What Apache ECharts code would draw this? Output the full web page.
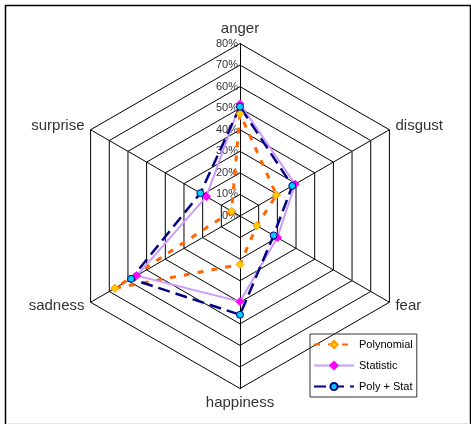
<!DOCTYPE html>
<html><head><meta charset="utf-8">
<script src="https://cdn.jsdelivr.net/npm/echarts@6/dist/echarts.min.js"></script>
<style>html,body{margin:0;padding:0;background:#fff}#c{width:471px;height:425px}</style>
</head><body><div id="c"></div>
<script>
// Categories in clockwise visual order starting at top
const categories = ['anger', 'disgust', 'fear', 'happiness', 'sadness', 'surprise'];
const polynomial = [47.5, 19.5, 9, 22.5, 67, 4.5];
const statistic  = [52, 29.5, 20, 39.7, 55.3, 18];
const polyStat   = [50.7, 28, 18, 45.8, 58.3, 21.2];
const tickLabels = ['0%', '10%', '20%', '30%', '40%', '50%', '60%', '70%', '80%'];
const seriesNames = ['Polynomial', 'Statistic', 'Poly + Stat'];

// ECharts radar places indicators counter-clockwise; reorder so they appear clockwise
const order = [0, 5, 4, 3, 2, 1];
const reorder = arr => order.map(i => arr[i]);

const indicator = order.map((i, k) => {
  const o = { name: categories[i], min: 0, max: 80 };
  if (k === 0) o.axisLabel = {
    show: true, color: '#333', fontSize: 11, fontFamily: 'Liberation Sans, Arial',
    formatter: v => tickLabels[Math.round(v / 10)], margin: 2
  };
  return o;
});

const styles = [
  { symbol: 'diamond', symbolSize: 8,
    lineStyle: { color: '#FF6600', width: 3, type: [6, 8] },
    itemStyle: { color: '#FFCC00', borderColor: '#FF9900', borderWidth: 1 } },
  { symbol: 'diamond', symbolSize: 8,
    lineStyle: { color: '#CC99FF', width: 2, type: 'solid' },
    itemStyle: { color: '#FF00FF', borderColor: '#FF00FF', borderWidth: 1 } },
  { symbol: 'circle', symbolSize: 7,
    lineStyle: { color: '#000080', width: 2.5, type: [12, 6] },
    itemStyle: { color: '#00CCFF', borderColor: '#000080', borderWidth: 1 } }
];
const values = [polynomial, statistic, polyStat];

// Empty line series only supply legend icons (line + marker)
const legendSeries = seriesNames.map((n, i) => ({
  type: 'line', name: n, data: [], xAxisIndex: 0, yAxisIndex: 0,
  symbol: styles[i].symbol, symbolSize: 7,
  lineStyle: Object.assign({}, styles[i].lineStyle, { width: 2.5 }),
  itemStyle: styles[i].itemStyle
}));

const chart = echarts.init(document.getElementById('c'));
chart.setOption({
  animation: false,
  graphic: [
    { type: 'polyline', shape: { points: [[5.5, 424], [5.5, 5.5], [470.5, 5.5], [470.5, 424]] }, style: { fill: null, stroke: '#000', lineWidth: 1.5 }, z: -1 },
    { type: 'line', shape: { x1: 6, y1: 423.5, x2: 470, y2: 423.5 }, style: { stroke: '#e6e6e6', lineWidth: 1 }, z: -1 }
  ],
  grid: { left: 0, top: 0, width: 1, height: 1, show: false },
  xAxis: { type: 'value', show: false },
  yAxis: { type: 'value', show: false },
  legend: {
    orient: 'vertical', left: 310, top: 334, itemWidth: 40, itemHeight: 9, itemGap: 10,
    padding: [5, 4, 5, 3], borderColor: '#333', borderWidth: 1,
    textStyle: { fontSize: 11, color: '#000', fontFamily: 'Liberation Sans, Arial' },
    data: seriesNames
  },
  radar: {
    center: [240, 216], radius: 172.5, startAngle: 90, splitNumber: 8,
    shape: 'polygon', indicator: indicator,
    axisName: { color: '#333', fontSize: 15, fontFamily: 'Liberation Sans, Arial' },
    nameGap: 7,
    axisLine: { lineStyle: { color: '#000', width: 1 } },
    splitLine: { lineStyle: { color: '#000', width: 1 } },
    splitArea: { show: false },
    axisLabel: { show: false },
    axisTick: { show: false }
  },
  series: legendSeries.concat([{
    type: 'radar',
    data: seriesNames.map((n, i) => Object.assign({ name: n, value: reorder(values[i]) }, styles[i]))
  }])
});
</script></body></html>
